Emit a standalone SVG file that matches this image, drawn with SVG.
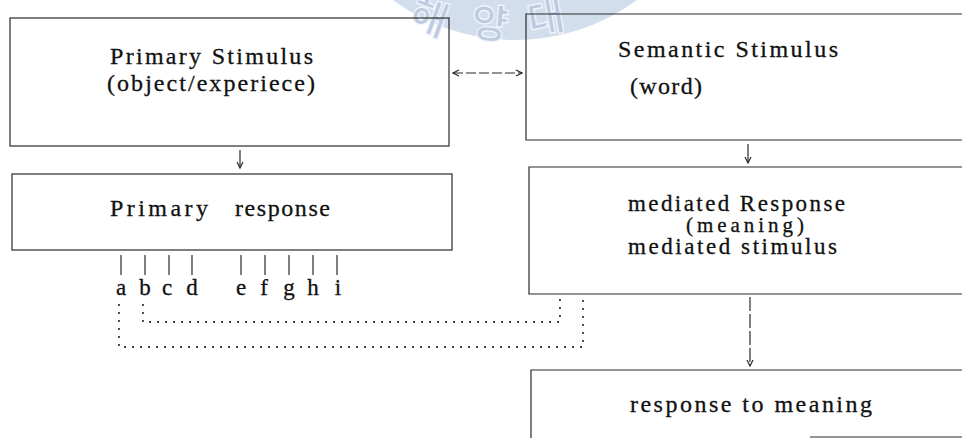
<svg xmlns="http://www.w3.org/2000/svg" width="962" height="442" viewBox="0 0 962 442">
<style>
  .box { fill: none; stroke: #2a2a2a; stroke-width: 1.2; }
  .t { font-family: "Liberation Serif", "Times New Roman", serif; fill: #111; stroke: #111; stroke-width: 0.3; }
  .conn { fill: none; stroke: #2a2a2a; stroke-width: 1.2; }
  .dot { fill: none; stroke: #111; stroke-width: 2; stroke-dasharray: 0.1 7.9; stroke-linecap: round; }
  .wm { fill: #bccbe2; stroke: #f3f6fb; stroke-width: 1.2; font-family: "Noto Sans CJK KR", sans-serif; font-size: 40px; font-weight: bold; }
</style>
<defs>
  <marker id="ah" viewBox="0 0 8 8" refX="7" refY="4" markerWidth="8" markerHeight="8" markerUnits="userSpaceOnUse" orient="auto-start-reverse">
    <path d="M1,1 L7,4 L1,7" fill="none" stroke="#2a2a2a" stroke-width="1.2"/>
  </marker>
</defs>
<rect width="962" height="442" fill="#ffffff"/>
<g id="watermark">
  <circle cx="515" cy="-166" r="206" fill="#d3deed"/>
  <text class="wm" x="429" y="32" text-anchor="middle" transform="rotate(20 429 18)">해</text>
  <text class="wm" x="490" y="38" text-anchor="middle" transform="rotate(5 490 22)">양</text>
  <text class="wm" x="546" y="32" text-anchor="middle" transform="rotate(-10 546 18)">대</text>
</g>
<g id="primary-stimulus">
  <rect class="box" x="10" y="18" width="439" height="128"/>
  <text class="t" x="110" y="64" font-size="24" textLength="203" lengthAdjust="spacing">Primary Stimulus</text>
  <text class="t" x="107" y="91" font-size="24" textLength="208" lengthAdjust="spacing">(object/experiece)</text>
</g>
<g id="primary-response">
  <rect class="box" x="12" y="174" width="440" height="76"/>
  <text class="t" x="110" y="216" font-size="24" textLength="98" lengthAdjust="spacing">Primary</text>
  <text class="t" x="235" y="216" font-size="24" textLength="95" lengthAdjust="spacing">response</text>
</g>
<g id="semantic-stimulus">
  <path class="box" d="M962,14 H526 V140 H962"/>
  <text class="t" x="618" y="57" font-size="24" textLength="220" lengthAdjust="spacing">Semantic Stimulus</text>
  <text class="t" x="630" y="94" font-size="24" textLength="72" lengthAdjust="spacing">(word)</text>
</g>
<g id="mediated-response">
  <path class="box" d="M962,167 H529 V294 H962"/>
  <text class="t" x="628" y="211" font-size="23" textLength="217" lengthAdjust="spacing">mediated Response</text>
  <text class="t" x="686" y="232" font-size="21" textLength="118" lengthAdjust="spacing">(meaning)</text>
  <text class="t" x="628" y="254" font-size="23" textLength="209" lengthAdjust="spacing">mediated stimulus</text>
</g>
<g id="response-to-meaning">
  <path class="box" d="M962,370 H531 V438"/>
  <path class="box" d="M810,437 H962"/>
  <text class="t" x="630" y="412" font-size="24" textLength="242" lengthAdjust="spacing">response to meaning</text>
</g>
<g id="labels">
  <g class="conn">
    <path d="M121,255 V275"/><path d="M145,255 V275"/><path d="M169,255 V275"/><path d="M192,255 V275"/>
    <path d="M241,255 V275"/><path d="M265,255 V275"/><path d="M289,255 V275"/><path d="M313,255 V275"/><path d="M337,255 V275"/>
  </g>
  <g class="t" font-size="23" text-anchor="middle">
    <text x="121" y="295">a</text><text x="145" y="295">b</text><text x="167" y="295">c</text><text x="192" y="295">d</text>
    <text x="241" y="295">e</text><text x="264" y="295">f</text><text x="289" y="295">g</text><text x="313" y="295">h</text><text x="338" y="295">i</text>
  </g>
</g>
<g id="connectors">
  <path class="conn" d="M240,150 V168" marker-end="url(#ah)"/>
  <path class="conn" d="M453,73 H522" stroke-dasharray="10 3" marker-start="url(#ah)" marker-end="url(#ah)"/>
  <path class="conn" d="M748,144 V163" marker-end="url(#ah)"/>
  <path class="conn" d="M750,297 V366" stroke-dasharray="14 3" marker-end="url(#ah)"/>
  <path class="dot" d="M119,305 V347 H583 V297"/>
  <path class="dot" d="M143,305 V322 H560 V297"/>
</g>
</svg>
